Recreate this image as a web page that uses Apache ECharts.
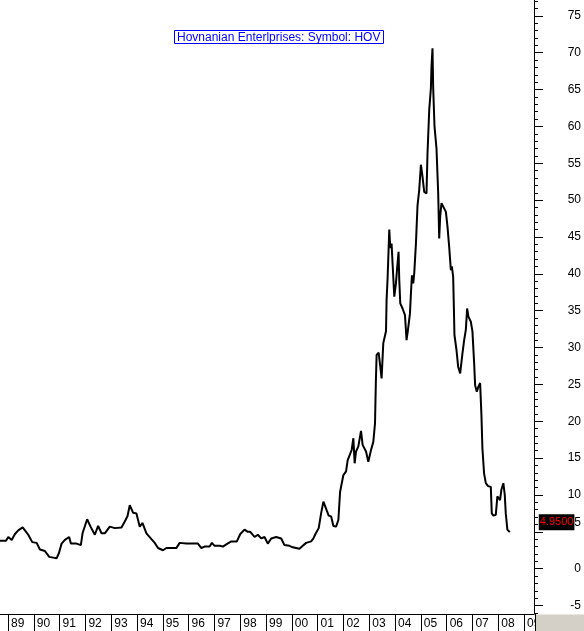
<!DOCTYPE html>
<html>
<head>
<meta charset="utf-8">
<script src="https://cdn.jsdelivr.net/npm/echarts@6/dist/echarts.min.js"></script>
<style>html,body{margin:0;padding:0;background:#fff}#c{width:584px;height:631px}</style>
</head>
<body>
<div id="c"></div>
<script>
// Decimal-year dates and closing prices
var dates = [1988.690,1988.922,1989.011,1989.143,1989.270,1989.398,1989.568,1989.657,1989.785,1989.940,
1990.110,1990.237,1990.431,1990.597,1990.752,1990.883,1990.972,1991.077,1991.205,1991.371,
1991.437,1991.657,1991.824,1991.889,1992.067,1992.199,1992.365,1992.493,1992.624,1992.752,
1992.945,1993.139,1993.398,1993.526,1993.630,1993.719,1993.847,1993.978,1994.106,1994.210,
1994.365,1994.559,1994.686,1994.814,1995.007,1995.139,1995.394,1995.526,1995.653,1995.912,
1996.168,1996.361,1996.493,1996.620,1996.814,1996.903,1997.007,1997.201,1997.328,1997.460,
1997.653,1997.870,1998.002,1998.168,1998.296,1998.388,1998.555,1998.683,1998.814,1998.941,
1999.069,1999.201,1999.394,1999.588,1999.715,1999.909,2000.037,2000.296,2000.423,2000.555,
2000.749,2000.837,2000.915,2001.042,2001.135,2001.224,2001.352,2001.429,2001.522,2001.611,
2001.715,2001.804,2001.870,2001.947,2001.998,2002.102,2002.164,2002.230,2002.319,2002.385,
2002.435,2002.489,2002.578,2002.682,2002.744,2002.876,2002.965,2003.069,2003.158,2003.224,
2003.255,2003.286,2003.364,2003.429,2003.479,2003.545,2003.650,2003.673,2003.712,2003.777,
2003.816,2003.866,2003.905,2003.971,2004.036,2004.075,2004.137,2004.164,2004.203,2004.292,
2004.385,2004.447,2004.501,2004.578,2004.617,2004.655,2004.706,2004.745,2004.810,2004.872,
2004.938,2005.003,2005.065,2005.131,2005.220,2005.259,2005.325,2005.390,2005.413,2005.452,
2005.479,2005.530,2005.607,2005.673,2005.712,2005.750,2005.801,2005.878,2005.971,2006.033,
2006.098,2006.164,2006.203,2006.253,2006.280,2006.303,2006.381,2006.446,2006.524,2006.613,
2006.679,2006.744,2006.795,2006.845,2006.938,2007.000,2007.066,2007.104,2007.170,2007.232,
2007.298,2007.348,2007.387,2007.452,2007.518,2007.607,2007.712,2007.750,2007.812,2007.905,
2007.967,2008.033,2008.071,2008.121,2008.199,2008.253,2008.292,2008.354,2008.447];
var prices = [3.8,3.8,4.3,3.9,4.7,5.2,5.6,5.2,4.6,3.6,
3.5,2.6,2.4,1.6,1.5,1.4,2.1,3.4,3.9,4.3,
3.4,3.4,3.2,4.8,6.7,5.7,4.6,5.8,4.8,4.8,
5.7,5.5,5.6,6.4,7.1,8.6,7.6,7.5,5.7,6.2,
4.8,4.0,3.5,2.8,2.5,2.8,2.8,2.8,3.5,3.4,
3.4,3.4,2.8,3.0,3.0,3.5,3.1,3.1,3.0,3.3,
3.7,3.7,4.7,5.3,5.0,5.0,4.3,4.6,4.1,4.3,
3.4,4.1,4.3,4.1,3.2,3.1,2.9,2.7,3.1,3.5,
3.7,4.1,4.7,5.5,7.5,9.1,7.9,7.2,7.1,5.8,
5.7,6.6,10.4,10.6,12.7,13.2,14.7,15.3,16.1,17.7,
14.3,15.9,16.6,18.7,16.8,15.9,14.5,16.1,17.2,19.7,
25.0,29.0,29.3,27.4,25.8,30.6,32.2,36.5,39.4,46.0,
43.5,44.1,41.4,36.9,38.7,40.5,43.0,39.2,36.0,35.3,
34.4,31.0,32.4,34.6,37.4,39.8,38.7,40.1,44.1,49.3,
51.4,54.8,53.2,51.1,50.9,56.4,62.2,65.2,68.1,70.6,
65.2,60.0,57.0,50.9,44.8,47.8,49.6,49.7,48.4,46.4,
43.7,40.5,41.0,39.6,35.5,31.7,29.7,27.4,26.5,29.2,
31.0,32.4,35.3,34.2,33.5,32.2,27.9,24.9,24.0,24.7,
25.2,20.9,16.3,12.9,11.6,11.2,11.1,7.5,7.2,7.3,
9.8,9.6,9.3,10.7,11.6,10.0,7.5,5.3,4.95];
var yearTicks = [1989,1990,1991,1992,1993,1994,1995,1996,1997,1998,1999,2000,2001,2002,2003,2004,2005,2006,2007,2008,2009];
var priceTicks = [-5,0,5,10,15,20,25,30,35,40,45,50,55,60,65,70,75];
var minorTicks = [];
for (var i = -6; i <= 77; i++) minorTicks.push(i);
var titleText = 'Hovnanian Enterlprises: Symbol: HOV';

var seriesData = dates.map(function (d, i) { return [d, prices[i]]; });
var FONT = 'Liberation Sans, Arial, sans-serif';

var chart = echarts.init(document.getElementById('c'), null, {renderer: 'canvas'});
chart.setOption({
  animation: false,
  backgroundColor: '#fff',
  title: {
    text: titleText,
    left: 174, top: 30,
    padding: [1, 3, 0, 3],
    borderColor: '#0000ff', borderWidth: 1,
    backgroundColor: '#fff',
    textStyle: {color: '#0000ff', fontSize: 12, fontWeight: 'normal', fontFamily: FONT, lineHeight: 13}
  },
  grid: {left: 0, right: 49, top: 0, bottom: 17, containLabel: false},
  xAxis: {
    type: 'value', min: 1988.69, max: 2009.386,
    axisLine: {show: true, onZero: false, lineStyle: {color: '#000', width: 1}},
    axisTick: {show: true, customValues: yearTicks, length: 17, lineStyle: {color: '#000'}},
    axisLabel: {
      show: true, customValues: yearTicks, align: 'left', margin: 4,
      padding: [0, 0, 0, 3],
      color: '#000', fontSize: 12, fontFamily: FONT,
      formatter: function (v) { var s = String(Math.round(v) % 100); return s.length < 2 ? '0' + s : s; }
    },
    splitLine: {show: false}
  },
  yAxis: [{
    type: 'value', position: 'right', min: -6.15, max: 77.15,
    axisLine: {show: true, onZero: false, lineStyle: {color: '#000', width: 1}},
    axisTick: {show: true, customValues: priceTicks, length: 9, lineStyle: {color: '#000'}},
    axisLabel: {
      show: true, customValues: priceTicks, align: 'right', margin: 47,
      color: '#000', fontSize: 12, fontFamily: FONT,
      formatter: function (v) { return v === 5 ? '{s|5}' : String(v); },
      rich: {s: {padding: [0, 0, 18, 0], fontSize: 12, fontFamily: FONT, color: '#000'}}
    },
    splitLine: {show: false}
  }, {
    type: 'value', position: 'right', min: -6.15, max: 77.15,
    axisLine: {show: false, onZero: false},
    axisTick: {show: true, customValues: minorTicks, length: 4, lineStyle: {color: '#000'}},
    axisLabel: {show: false},
    splitLine: {show: false}
  }],
  series: [{
    type: 'line', data: seriesData, yAxisIndex: 0,
    showSymbol: false, symbol: 'none',
    lineStyle: {color: '#000', width: 2},
    endLabel: {
      show: true, distance: 0, offset: [29, -10],
      formatter: function (p) { return p.value[1].toFixed(4); },
      backgroundColor: '#000', color: '#ff0000',
      fontSize: 11, fontFamily: FONT, lineHeight: 12, padding: [2, 1, 2, 1]
    }
  }],
  graphic: [{
    type: 'rect', z: 100,
    shape: {x: 536, y: 614.5, width: 48, height: 17},
    style: {fill: '#d4d0c8'}
  }, {
    type: 'line', z: 100,
    shape: {x1: 535.5, y1: 614, x2: 535.5, y2: 631},
    style: {stroke: '#000', lineWidth: 1}
  }]
});
</script>
</body>
</html>
